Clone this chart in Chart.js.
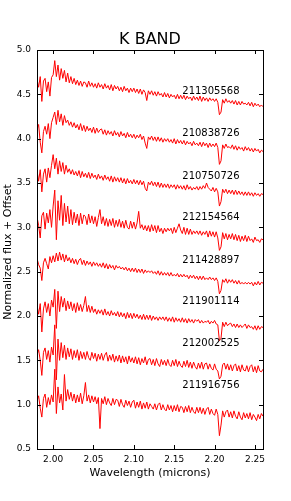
<!DOCTYPE html>
<html>
<head>
<meta charset="utf-8">
<script src="https://cdn.jsdelivr.net/npm/chart.js@4.4.0/dist/chart.umd.min.js"></script>
<style>
  html, body { margin: 0; padding: 0; background: #fff; }
  canvas { display: block; }
</style>
</head>
<body>
<canvas id="kband" width="291" height="501"></canvas>
<script>
// wavelength grid (microns)
const wavelength = [
  1.980,1.982,1.984,1.986,1.988,1.990,1.992,1.994,1.996,1.998,
  2.000,2.002,2.004,2.006,2.008,2.010,2.012,2.014,2.016,2.018,
  2.020,2.022,2.024,2.026,2.028,2.030,2.032,2.034,2.036,2.038,
  2.040,2.042,2.044,2.046,2.048,2.050,2.052,2.054,2.056,2.058,
  2.060,2.062,2.064,2.066,2.068,2.070,2.072,2.074,2.076,2.078,
  2.080,2.082,2.084,2.086,2.088,2.090,2.092,2.094,2.096,2.098,
  2.100,2.102,2.104,2.106,2.108,2.110,2.112,2.114,2.116,2.118,
  2.120,2.122,2.124,2.126,2.128,2.130,2.132,2.134,2.136,2.138,
  2.140,2.142,2.144,2.146,2.148,2.150,2.152,2.154,2.156,2.158,
  2.160,2.162,2.164,2.166,2.168,2.170,2.172,2.174,2.176,2.178,
  2.180,2.182,2.184,2.186,2.188,2.190,2.192,2.194,2.196,2.198,
  2.200,2.202,2.204,2.206,2.208,2.210,2.212,2.214,2.216,2.218,
  2.220,2.222,2.224,2.226,2.228,2.230,2.232,2.234,2.236,2.238,
  2.240,2.242,2.244,2.246,2.248,2.250,2.252,2.254,2.256,2.258,
  2.260
];

const starIds = ['211305568','210838726','210750726','212154564','211428897','211901114','212002525','211916756'];
const offsets = [3.5, 3.0, 2.5, 2.0, 1.5, 1.0, 0.5, 0.0];
const labelY = [4.50, 4.03, 3.55, 3.08, 2.60, 2.13, 1.66, 1.19];
const labelX = 2.16;

// normalized flux per star
const flux211305568 = [
  1.17,1.08,1.20,0.92,1.15,1.18,1.03,1.14,0.98,1.19,
  1.22,1.38,1.20,1.33,1.16,1.29,1.18,1.27,1.14,1.24,
  1.13,1.20,1.12,1.18,1.11,1.16,1.10,1.15,1.09,1.14,
  1.13,1.08,1.15,1.09,1.13,1.08,1.12,1.07,1.13,1.08,
  1.11,1.06,1.12,1.07,1.10,1.05,1.11,1.04,1.10,1.06,
  1.09,1.04,1.08,1.03,1.09,1.04,1.07,1.02,1.07,1.03,
  1.07,1.02,1.06,1.01,1.06,1.00,1.05,1.02,0.93,1.04,
  1.00,1.04,0.99,1.03,0.98,1.03,0.99,1.01,0.97,1.02,
  0.97,1.01,0.96,1.00,0.97,0.99,0.95,1.00,0.95,0.99,
  0.95,0.99,0.94,0.98,0.95,0.97,0.93,0.98,0.94,0.97,
  0.93,0.98,0.92,0.97,0.93,0.96,0.92,0.96,0.93,0.95,
  0.92,0.95,0.91,0.77,0.80,0.94,0.90,0.95,0.91,0.93,
  0.90,0.93,0.89,0.93,0.88,0.92,0.88,0.92,0.89,0.90,
  0.88,0.91,0.87,0.91,0.86,0.90,0.87,0.89,0.86,0.88,
  0.86
];
const flux210838726 = [
  1.10,1.16,0.96,0.84,1.08,1.14,1.05,1.17,1.00,1.18,
  1.24,1.30,1.16,1.32,1.19,1.28,1.15,1.26,1.18,1.21,
  1.15,1.19,1.13,1.18,1.12,1.16,1.10,1.17,1.09,1.15,
  1.08,1.14,1.09,1.12,1.07,1.13,1.06,1.12,1.07,1.10,
  1.11,1.05,1.10,1.04,1.09,1.05,1.08,1.03,1.09,1.04,
  1.07,1.02,1.08,1.03,1.06,1.01,1.07,1.02,1.05,1.01,
  1.05,1.00,1.04,1.01,1.05,0.99,1.03,0.95,0.89,1.02,
  0.99,1.03,0.98,1.02,0.97,1.02,0.97,1.01,0.96,1.00,
  0.97,1.00,0.96,0.99,0.95,1.00,0.94,0.99,0.95,0.98,
  0.94,0.98,0.93,0.97,0.94,0.96,0.92,0.97,0.93,0.95,
  0.92,0.96,0.91,0.96,0.92,0.95,0.90,0.95,0.91,0.94,
  0.91,0.95,0.90,0.71,0.75,0.93,0.89,0.94,0.90,0.91,
  0.89,0.93,0.88,0.92,0.87,0.91,0.88,0.90,0.86,0.91,
  0.87,0.90,0.86,0.89,0.85,0.89,0.86,0.88,0.84,0.87,
  0.855
];
const flux210750726 = [
  1.14,1.02,1.15,0.90,1.10,1.16,1.01,1.17,1.06,1.20,
  1.32,1.16,1.28,1.10,1.25,1.13,1.23,1.10,1.20,1.12,
  1.16,1.10,1.15,1.09,1.13,1.08,1.14,1.06,1.13,1.07,
  1.11,1.06,1.12,1.05,1.11,1.06,1.09,1.04,1.10,1.05,
  1.08,1.03,1.09,1.04,1.07,1.02,1.08,1.01,1.07,1.02,
  1.06,1.01,1.06,1.00,1.05,0.99,1.05,1.00,1.03,0.99,
  1.04,0.99,1.03,0.98,1.03,0.98,1.02,0.94,0.91,1.01,
  0.98,1.02,0.97,1.01,0.96,1.01,0.95,1.00,0.95,0.99,
  0.95,0.99,0.94,0.98,0.95,0.98,0.93,0.98,0.94,0.97,
  0.93,0.97,0.92,0.98,0.93,0.96,0.92,0.95,0.93,0.96,
  0.92,0.96,0.93,0.97,0.94,1.00,0.95,0.93,0.91,0.95,
  0.90,0.94,0.90,0.74,0.79,0.93,0.89,0.93,0.88,0.92,
  0.88,0.92,0.87,0.92,0.87,0.91,0.87,0.90,0.86,0.90,
  0.86,0.90,0.86,0.89,0.85,0.89,0.86,0.88,0.85,0.88,
  0.87
];
const flux212154564 = [
  1.12,1.02,0.88,1.13,1.17,0.98,1.16,1.05,1.20,1.00,
  1.24,1.42,0.86,1.30,1.08,1.36,1.02,1.27,1.06,1.24,
  1.04,1.20,1.03,1.17,1.05,1.15,1.02,1.16,1.04,1.14,
  1.12,1.03,1.15,1.05,1.13,1.04,1.12,1.01,1.11,1.20,
  1.04,1.12,1.02,1.10,1.01,1.09,1.02,1.10,1.00,1.08,
  1.01,1.09,1.00,1.07,0.99,1.08,1.00,0.98,1.07,0.99,
  1.06,0.98,1.05,1.18,0.99,1.03,0.97,1.02,0.96,1.02,
  0.95,1.03,0.96,1.02,0.94,1.02,0.95,0.99,0.93,0.99,
  0.95,0.99,0.96,0.99,0.93,1.00,0.94,0.99,1.04,0.97,
  0.93,1.00,0.92,0.99,0.92,0.98,0.92,0.96,0.93,0.96,
  0.92,0.96,0.91,0.95,0.92,0.96,0.89,0.96,0.90,0.95,
  0.89,0.95,0.88,0.74,0.78,0.94,0.87,0.93,0.86,0.92,
  0.87,0.93,0.86,0.92,0.85,0.91,0.84,0.90,0.85,0.91,
  0.84,0.90,0.85,0.87,0.83,0.89,0.85,0.86,0.83,0.87,
  0.86
];
const flux211428897 = [
  1.15,1.08,1.04,0.90,1.10,1.15,1.09,1.03,1.17,1.10,
  1.18,1.11,1.21,1.12,1.22,1.13,1.20,1.11,1.19,1.12,
  1.16,1.10,1.15,1.09,1.14,1.08,1.13,1.15,1.08,1.13,
  1.07,1.12,1.08,1.11,1.06,1.11,1.07,1.10,1.06,1.09,
  1.05,1.10,1.04,1.09,1.03,1.08,1.04,1.07,1.02,1.07,
  1.04,1.06,1.03,1.05,1.02,1.05,1.01,1.04,1.00,1.04,
  1.00,1.04,0.99,1.03,0.99,1.03,0.98,1.02,0.99,1.01,
  0.99,1.01,0.98,1.00,0.97,1.01,0.96,1.00,0.96,0.99,
  0.96,0.99,0.95,0.99,0.95,0.97,0.95,0.98,0.94,0.97,
  0.94,0.97,0.94,0.96,0.92,0.96,0.93,0.96,0.92,0.95,
  0.91,0.95,0.91,0.95,0.91,0.93,0.91,0.94,0.91,0.93,
  0.90,0.93,0.89,0.75,0.79,0.91,0.88,0.92,0.87,0.91,
  0.88,0.91,0.87,0.90,0.86,0.90,0.86,0.88,0.86,0.88,
  0.86,0.88,0.86,0.88,0.84,0.88,0.85,0.89,0.85,0.88,
  0.87
];
const flux211901114 = [
  1.12,1.02,1.14,0.82,1.08,1.16,1.04,1.14,1.00,1.18,
  1.10,1.30,0.86,1.28,1.05,1.22,1.10,1.20,1.06,1.17,
  1.08,1.16,1.06,1.14,1.04,1.15,1.06,1.13,1.05,1.12,
  1.22,1.05,1.12,1.04,1.11,1.04,1.08,1.02,1.07,1.03,
  1.07,1.01,1.08,1.01,1.05,1.00,1.06,1.01,1.04,1.00,
  1.05,0.99,1.04,0.99,1.03,0.97,1.04,0.98,1.03,0.97,
  1.03,0.98,1.02,0.97,1.01,0.96,1.02,0.96,1.01,0.96,
  1.01,0.95,1.00,0.96,0.99,0.95,0.99,0.96,0.99,0.95,
  0.99,0.94,0.98,0.94,0.99,0.93,0.98,0.94,0.97,0.93,
  0.98,0.93,0.97,0.92,0.97,0.93,0.96,0.92,0.96,0.94,
  0.96,0.92,0.95,0.92,0.94,0.93,0.95,0.91,0.94,0.92,
  0.95,0.91,0.90,0.72,0.75,0.93,0.88,0.93,0.89,0.91,
  0.92,0.88,0.91,0.87,0.91,0.87,0.90,0.87,0.89,0.91,
  0.86,0.90,0.87,0.88,0.85,0.89,0.84,0.89,0.85,0.88,
  0.87
];
const flux212002525 = [
  1.06,1.12,1.00,0.83,1.09,1.14,1.01,1.11,0.98,1.15,
  1.06,1.40,0.78,1.24,1.00,1.20,1.03,1.17,1.01,1.14,
  1.04,1.13,1.01,1.11,1.03,1.12,1.00,1.10,1.02,1.09,
  1.01,1.10,1.03,1.00,1.09,1.02,1.08,0.99,1.07,1.01,
  1.08,1.00,1.06,1.09,0.99,1.06,1.00,1.07,0.98,1.05,
  0.99,1.06,0.97,1.05,0.98,1.04,0.96,1.05,0.98,1.03,
  0.97,1.04,0.96,1.03,0.95,1.02,0.97,1.04,0.95,1.01,
  1.02,0.95,1.01,0.94,1.02,0.96,0.93,1.01,0.95,1.00,
  0.94,1.01,0.95,0.93,1.00,0.94,1.01,0.93,0.99,0.94,
  0.92,0.99,0.93,1.00,0.92,0.98,0.91,0.98,0.93,0.90,
  0.97,0.91,0.98,0.90,0.96,0.97,0.90,0.96,0.91,0.89,
  0.96,0.90,0.88,0.79,0.82,0.95,0.97,0.90,0.96,0.89,
  0.95,0.88,0.94,0.96,0.88,0.94,0.87,0.95,0.89,0.88,
  0.94,0.87,0.93,0.95,0.87,0.93,0.86,0.94,0.88,0.87,
  0.90
];
const flux211916756 = [
  1.04,1.10,0.96,0.86,1.07,1.12,0.97,1.08,1.00,1.11,
  1.03,1.40,0.90,1.20,1.02,1.12,0.94,1.34,1.04,1.17,
  1.06,1.14,1.04,1.12,1.02,1.11,1.03,1.13,1.01,1.10,
  1.25,1.04,1.11,1.02,1.10,1.03,1.09,1.01,1.08,0.73,
  1.07,1.01,1.09,1.00,1.07,1.02,0.99,1.07,1.00,1.06,
  1.05,0.98,1.06,1.00,0.97,1.05,0.99,1.04,0.97,1.03,
  1.05,0.96,1.03,0.97,1.04,0.95,1.02,0.96,1.03,0.95,
  1.01,0.98,0.95,1.01,0.94,1.00,1.02,0.94,1.00,0.95,
  0.93,1.00,0.94,0.99,0.92,0.99,0.93,1.00,0.92,0.98,
  0.97,0.91,0.98,0.92,0.99,0.91,0.97,0.92,0.90,0.97,
  0.91,0.97,0.90,0.96,0.89,0.95,0.97,0.89,0.95,0.90,
  0.88,0.95,0.89,0.65,0.77,0.93,0.86,0.92,0.94,0.86,
  0.92,0.85,0.93,0.87,0.84,0.92,0.86,0.83,0.91,0.85,
  0.90,0.84,0.91,0.83,0.89,0.86,0.82,0.89,0.84,0.90,
  0.87
];
const fluxes = [flux211305568, flux210838726, flux210750726, flux212154564,
                flux211428897, flux211901114, flux212002525, flux211916756];

const xTicks = [2.00, 2.05, 2.10, 2.15, 2.20, 2.25];
const xTickLabels = ['2.00', '2.05', '2.10', '2.15', '2.20', '2.25'];
const yTicks = [0.5, 1.0, 1.5, 2.0, 2.5, 3.0, 3.5, 4.0, 4.5, 5.0];
const yTickLabels = ['0.5', '1.0', '1.5', '2.0', '2.5', '3.0', '3.5', '4.0', '4.5', '5.0'];

const FONT = 'DejaVu Sans';

// frame, inward ticks, titles and star labels
const decorPlugin = {
  id: 'decor',
  afterDatasetsDraw(chart) {
    const { ctx, chartArea: a, scales: { x, y } } = chart;
    ctx.save();
    ctx.strokeStyle = '#000';
    ctx.lineWidth = 1;
    ctx.beginPath();
    xTicks.forEach(v => {
      const px = Math.round(x.getPixelForValue(v)) + 0.5;
      ctx.moveTo(px, a.bottom); ctx.lineTo(px, a.bottom - 4);
      ctx.moveTo(px, a.top); ctx.lineTo(px, a.top + 4);
    });
    yTicks.forEach(v => {
      const py = Math.round(y.getPixelForValue(v)) + 0.5;
      ctx.moveTo(a.left, py); ctx.lineTo(a.left + 4, py);
      ctx.moveTo(a.right, py); ctx.lineTo(a.right - 4, py);
    });
    ctx.stroke();
    ctx.strokeRect(Math.round(a.left) + 0.5, Math.round(a.top) + 0.5,
                   Math.round(a.right - a.left), Math.round(a.bottom - a.top));

    // star ids
    ctx.fillStyle = '#000';
    ctx.font = '10px "' + FONT + '"';
    ctx.textAlign = 'left';
    ctx.textBaseline = 'alphabetic';
    starIds.forEach((id, i) => {
      ctx.fillText(id, x.getPixelForValue(labelX), y.getPixelForValue(labelY[i]));
    });

    // title
    ctx.textAlign = 'center';
    ctx.textBaseline = 'middle';
    ctx.font = '16px "' + FONT + '"';
    ctx.fillText('K BAND', (a.left + a.right) / 2, 40);

    // axis titles
    ctx.font = '11px "' + FONT + '"';
    ctx.fillText('Wavelength (microns)', (a.left + a.right) / 2, 473);
    ctx.translate(8, 252);
    ctx.rotate(-Math.PI / 2);
    ctx.fillText('Normalized flux + Offset', 0, 0);
    ctx.restore();
  }
};

new Chart(document.getElementById('kband'), {
  type: 'line',
  data: {
    labels: wavelength,
    datasets: fluxes.map((f, i) => ({
      label: starIds[i],
      data: f.map((v, j) => ({ x: wavelength[j], y: v + offsets[i] })),
      borderColor: '#ff0000',
      borderWidth: 1,
      pointRadius: 0,
      tension: 0,
      fill: false
    }))
  },
  options: {
    responsive: false,
    animation: false,
    layout: { padding: { left: 0, top: 50, right: 28, bottom: 0 } },
    plugins: { legend: { display: false }, tooltip: { enabled: false } },
    scales: {
      x: {
        type: 'linear',
        min: 1.98,
        max: 2.26,
        grid: { display: false, drawTicks: false },
        border: { display: false },
        afterBuildTicks: s => { s.ticks = xTicks.map(v => ({ value: v })); },
        afterFit: s => { s.height = 52; },
        ticks: {
          padding: 5,
          color: '#000',
          font: { family: FONT, size: 9 },
          maxRotation: 0,
          callback: (v, i) => xTickLabels[i]
        }
      },
      y: {
        min: 0.5,
        max: 5.0,
        grid: { display: false, drawTicks: false },
        border: { display: false },
        afterBuildTicks: s => { s.ticks = yTicks.map(v => ({ value: v })); },
        afterFit: s => { s.width = 37; },
        ticks: {
          padding: 6,
          color: '#000',
          font: { family: FONT, size: 9 },
          callback: (v, i) => yTickLabels[i]
        }
      }
    }
  },
  plugins: [decorPlugin]
});
</script>
</body>
</html>
